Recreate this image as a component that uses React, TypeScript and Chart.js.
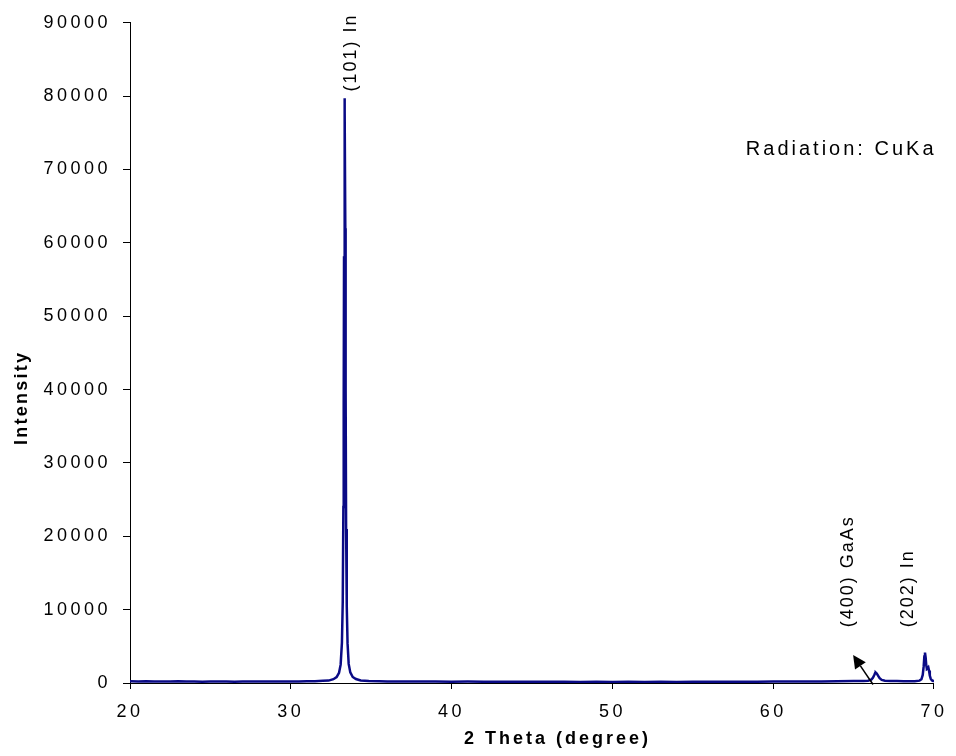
import { useEffect, useRef } from "react";
import { Chart, registerables } from "chart.js";

Chart.register(...registerables);

// 2-theta positions (degree)
const twoTheta = [
  20, 20.5, 21, 21.5, 22, 22.5, 23, 23.5, 24, 24.5, 25, 25.5, 26, 26.5, 27, 27.5,
  28, 28.5, 29, 29.5, 30, 30.5, 31, 31.5, 32, 32.35, 32.65, 32.85, 33.0, 33.1,
  33.18, 33.23, 33.27, 33.29, 33.31, 33.33, 33.35, 33.37, 33.39, 33.41, 33.44, 33.48, 33.53, 33.6,
  33.7, 33.85, 34.05, 34.35, 34.85, 35.5, 36, 37, 38, 39, 40, 41, 42, 43, 44, 45,
  46, 47, 48, 49, 50, 51, 52, 53, 54, 55, 56, 57, 58, 59, 60, 61, 62, 63, 64, 65,
  65.6, 65.9, 66.1, 66.2, 66.28, 66.34, 66.38, 66.44, 66.52, 66.62, 66.75, 66.95,
  67.3, 67.7, 68.1, 68.5, 68.8, 69.1, 69.22, 69.3, 69.36, 69.4, 69.44, 69.48,
  69.52, 69.56, 69.6, 69.65, 69.69, 69.74, 69.8, 69.88, 69.95, 70,
];

// measured intensity (counts)
const intensity = [
  230, 210, 240, 200, 220, 190, 230, 200, 210, 180, 200, 190, 210, 180, 200, 190,
  210, 200, 190, 210, 200, 220, 230, 250, 290, 330, 520, 800, 1400, 2500,
  5500, 11000, 24000, 38000, 58000, 77000, 79700, 78000, 62000, 40000, 21000, 10500, 5400, 2600,
  1450, 820, 540, 350, 260, 230, 210, 200, 190, 200, 180, 190, 170, 180, 170, 160,
  170, 160, 150, 160, 150, 160, 150, 160, 150, 160, 170, 160, 170, 180, 190, 200, 210, 220, 240, 260,
  280, 320, 450, 700, 1050, 1350, 1420, 1300, 1000, 650, 420, 320,
  280, 260, 250, 240, 250, 320, 500, 1100, 2300, 3600, 4150, 3500,
  2400, 1900, 1950, 2100, 1700, 1000, 550, 350, 280, 260,
];

const xTickValues = [20, 30, 40, 50, 60, 70];
const yTickValues = [0, 10000, 20000, 30000, 40000, 50000, 60000, 70000, 80000, 90000];

const peakLabels = ["(101) In", "(400) GaAs", "(202) In"];
const peakLabelX = [33.74, 64.68, 68.39];
const peakLabelY = [80620, 7610, 7610];

const noteText = "Radiation: CuKa";
const noteX = 58.3;
const noteY = 72730;

const arrowFromX = 66.21;
const arrowFromY = -200;
const arrowToX = 64.97;
const arrowToY = 3810;

const xTitle = "2 Theta (degree)";
const yTitle = "Intensity";

const FONT = 'Arial, "Liberation Sans", sans-serif';

const annotPlugin = {
  id: "annot",
  beforeDraw(chart: any) {
    chart.ctx.letterSpacing = "3.5px";
  },
  afterDraw(chart: any) {
    const { ctx, chartArea } = chart;
    const xs = chart.scales.x;
    const ys = chart.scales.y;
    ctx.save();
    ctx.fillStyle = "#000";
    ctx.strokeStyle = "#000";

    // peak labels (rotated)
    ctx.font = `18px ${FONT}`;
    ctx.letterSpacing = "2px";
    peakLabels.forEach((t, i) => {
      ctx.save();
      ctx.translate(xs.getPixelForValue(peakLabelX[i]), ys.getPixelForValue(peakLabelY[i]));
      ctx.rotate(-Math.PI / 2);
      ctx.textAlign = "left";
      ctx.textBaseline = "middle";
      ctx.fillText(t, 0, 0);
      ctx.restore();
    });

    // note
    ctx.font = `20px ${FONT}`;
    ctx.letterSpacing = "3px";
    ctx.textAlign = "left";
    ctx.textBaseline = "middle";
    ctx.fillText(noteText, xs.getPixelForValue(noteX), ys.getPixelForValue(noteY));

    // arrow
    const x1 = xs.getPixelForValue(arrowFromX);
    const y1 = ys.getPixelForValue(arrowFromY);
    const x2 = xs.getPixelForValue(arrowToX);
    const y2 = ys.getPixelForValue(arrowToY);
    const ang = Math.atan2(y2 - y1, x2 - x1);
    const hl = 13;
    const hw = 6.5;
    const bx = x2 - hl * Math.cos(ang);
    const by = y2 - hl * Math.sin(ang);
    ctx.lineWidth = 1.5;
    ctx.beginPath();
    ctx.moveTo(x1, y1);
    ctx.lineTo(bx, by);
    ctx.stroke();
    ctx.beginPath();
    ctx.moveTo(x2, y2);
    ctx.lineTo(bx + hw * Math.sin(ang), by - hw * Math.cos(ang));
    ctx.lineTo(bx - hw * Math.sin(ang), by + hw * Math.cos(ang));
    ctx.closePath();
    ctx.fill();

    // axis titles
    ctx.font = `bold 18px ${FONT}`;
    ctx.letterSpacing = "3px";
    ctx.textAlign = "left";
    ctx.textBaseline = "middle";
    ctx.fillText(xTitle, chartArea.left + 334, chartArea.bottom + 56);

    ctx.letterSpacing = "2.25px";
    ctx.save();
    ctx.translate(22, (chartArea.top + chartArea.bottom) / 2 + 45);
    ctx.rotate(-Math.PI / 2);
    ctx.textAlign = "center";
    ctx.fillText(yTitle, 0, 0);
    ctx.restore();

    ctx.restore();
    ctx.letterSpacing = "0px";
  },
};

export default function App() {
  const ref = useRef<HTMLCanvasElement>(null);

  useEffect(() => {
    if (!ref.current) return;
    const points = twoTheta.map((t, i) => ({ x: t, y: intensity[i] }));
    const chart = new Chart(ref.current, {
      type: "line",
      data: {
        datasets: [
          {
            data: points,
            borderColor: "#0a0a85",
            borderWidth: 2.5,
            pointRadius: 0,
            tension: 0,
            fill: false,
          },
        ],
      },
      options: {
        animation: false,
        responsive: false,
        layout: { padding: { left: 0, top: 21, right: 18, bottom: 0 } },
        plugins: {
          legend: { display: false },
          tooltip: { enabled: false },
          title: { display: false },
        },
        scales: {
          x: {
            type: "linear",
            min: 20,
            max: 70,
            afterBuildTicks: (s: any) => {
              s.ticks = xTickValues.map((v) => ({ value: v }));
            },
            afterFit: (s: any) => {
              s.height = 73;
            },
            ticks: {
              autoSkip: false,
              maxRotation: 0,
              padding: 12,
              color: "#000",
              font: { family: FONT, size: 18 },
              callback: (v: any) => String(v),
            },
            grid: {
              display: true,
              drawOnChartArea: false,
              drawTicks: true,
              tickLength: 6,
              color: "#000",
            },
            border: { display: true, color: "#000", width: 1 },
          },
          y: {
            type: "linear",
            min: 0,
            max: 90000,
            afterBuildTicks: (s: any) => {
              s.ticks = yTickValues.map((v) => ({ value: v }));
            },
            afterFit: (s: any) => {
              s.width = 130;
            },
            ticks: {
              autoSkip: false,
              padding: 12,
              color: "#000",
              font: { family: FONT, size: 18 },
              callback: (v: any) => String(v),
            },
            grid: {
              display: true,
              drawOnChartArea: false,
              drawTicks: true,
              tickLength: 7,
              color: "#000",
            },
            border: { display: true, color: "#000", width: 1 },
          },
        },
      },
      plugins: [annotPlugin],
    });
    return () => chart.destroy();
  }, []);

  return (
    <div style={{ position: "absolute", left: 0, top: 0, width: 956, height: 756, background: "#fff" }}>
      <canvas ref={ref} width={956} height={756} style={{ display: "block" }} />
    </div>
  );
}
